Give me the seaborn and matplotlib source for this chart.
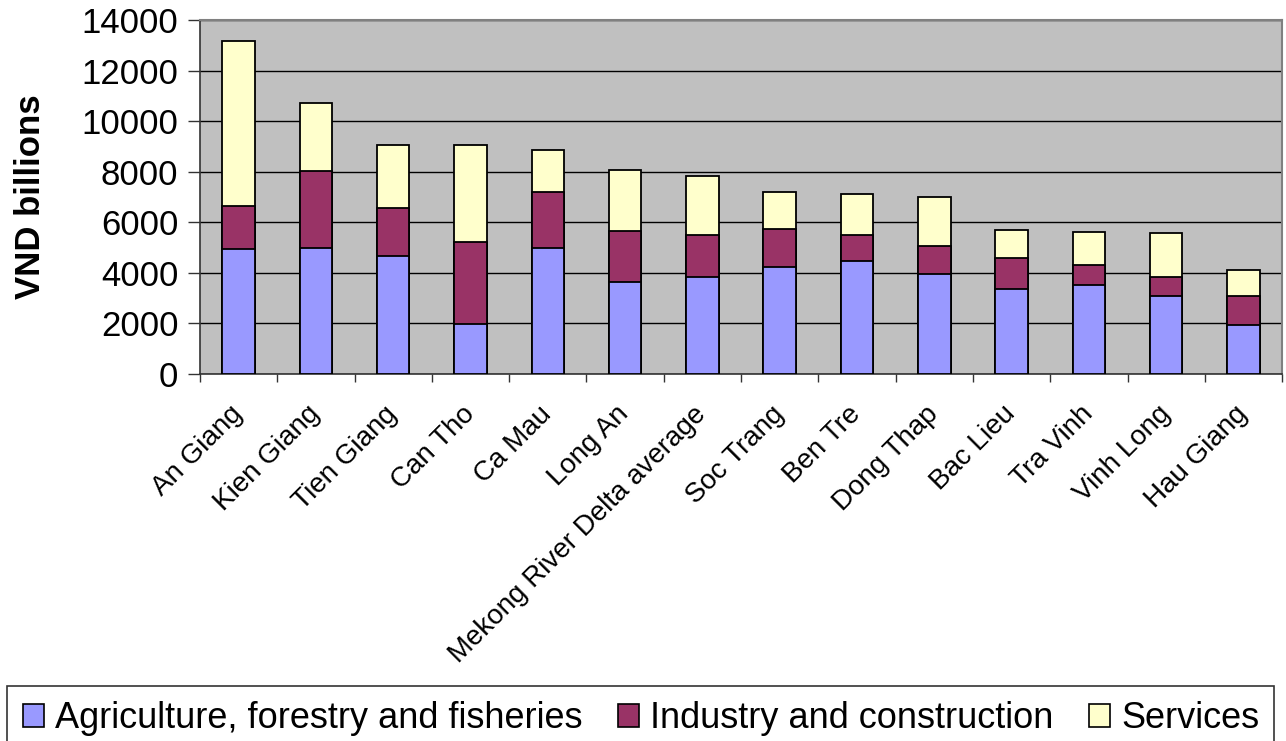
import numpy as np
import pandas as pd
import seaborn as sns
import matplotlib.pyplot as plt
from matplotlib.patches import Patch
from matplotlib.ticker import FixedLocator

# data (VND billions)
provinces = ["An Giang", "Kien Giang", "Tien Giang", "Can Tho", "Ca Mau", "Long An",
             "Mekong River Delta average", "Soc Trang", "Ben Tre", "Dong Thap",
             "Bac Lieu", "Tra Vinh", "Vinh Long", "Hau Giang"]
agriculture = [4940, 5000, 4660, 1990, 5000, 3630, 3840, 4250, 4460, 3970, 3370, 3500, 3090, 1930]
industry = [1720, 3010, 1920, 3220, 2190, 2010, 1640, 1500, 1020, 1100, 1230, 800, 750, 1140]
services = [6520, 2690, 2480, 3840, 1660, 2440, 2350, 1460, 1650, 1930, 1090, 1330, 1720, 1050]

series_names = ["Agriculture, forestry and fisheries", "Industry and construction", "Services"]
colors = ["#9999FF", "#993366", "#FFFFCC"]

df = pd.DataFrame({"province": provinces, "agri": agriculture,
                   "ind": industry, "serv": services})
df["agri_ind"] = df["agri"] + df["ind"]
df["total"] = df["agri_ind"] + df["serv"]

sns.set_style("white")
plt.rcParams["font.family"] = ["Liberation Sans", "DejaVu Sans"]
plt.rcParams["text.color"] = "black"
plt.rcParams["axes.labelcolor"] = "black"
plt.rcParams["xtick.color"] = "black"
plt.rcParams["ytick.color"] = "black"

fig = plt.figure(figsize=(12.86, 7.41), dpi=100)
ax = fig.add_axes([0.1555, 0.4953, 0.8415, 0.4777])
ax.set_facecolor("#C0C0C0")

# stacked bars: draw cumulative totals from the top down
for col, c in zip(["total", "agri_ind", "agri"], colors[::-1]):
    sns.barplot(data=df, x="province", y=col, color=c, width=0.42,
                edgecolor="black", linewidth=1.3, saturation=1, ax=ax)

ax.set_ylim(0, 14000)
ax.set_xlim(-0.5, len(provinces) - 0.5)
ax.set_yticks(np.arange(0, 14001, 2000))
ax.yaxis.grid(True, color="black", linewidth=1)
ax.set_axisbelow(True)
for b in ax.patches:
    b.set_zorder(3)

ax.set_ylabel("VND billions", fontsize=25, fontweight="bold", labelpad=25)
ax.set_xlabel("")
ax.tick_params(axis="y", labelsize=25, length=8.5, width=1, direction="out", left=True, pad=7,
               color="#333333")
ax.set_xticks(range(len(provinces)))
ax.set_xticklabels(provinces, rotation=45, ha="right", va="center",
                   rotation_mode="anchor", fontsize=20)
ax.tick_params(axis="x", which="major", length=0, pad=26)
ax.xaxis.set_minor_locator(FixedLocator(np.arange(-0.5, len(provinces), 1.0)))
ax.tick_params(axis="x", which="minor", length=6, width=1, direction="out", bottom=True,
               color="#333333")

for side in ["top", "right"]:
    ax.spines[side].set_color("#808080")
    ax.spines[side].set_linewidth(1.5)
for side in ["left", "bottom"]:
    ax.spines[side].set_color("#333333")
    ax.spines[side].set_linewidth(1.2)

handles = [Patch(facecolor=c, edgecolor="black", linewidth=1.2) for c in colors]
leg = fig.legend(handles, series_names, loc="lower center", ncol=3,
                 bbox_to_anchor=(0.4984, -0.014),
                 fontsize=26, frameon=True, fancybox=False, handlelength=0.6,
                 handleheight=0.6, handletextpad=0.3, columnspacing=0.97,
                 borderpad=0.42, borderaxespad=0)
leg.get_frame().set_edgecolor("black")
leg.get_frame().set_linewidth(1.2)

fig.savefig("out.png", dpi=100)
